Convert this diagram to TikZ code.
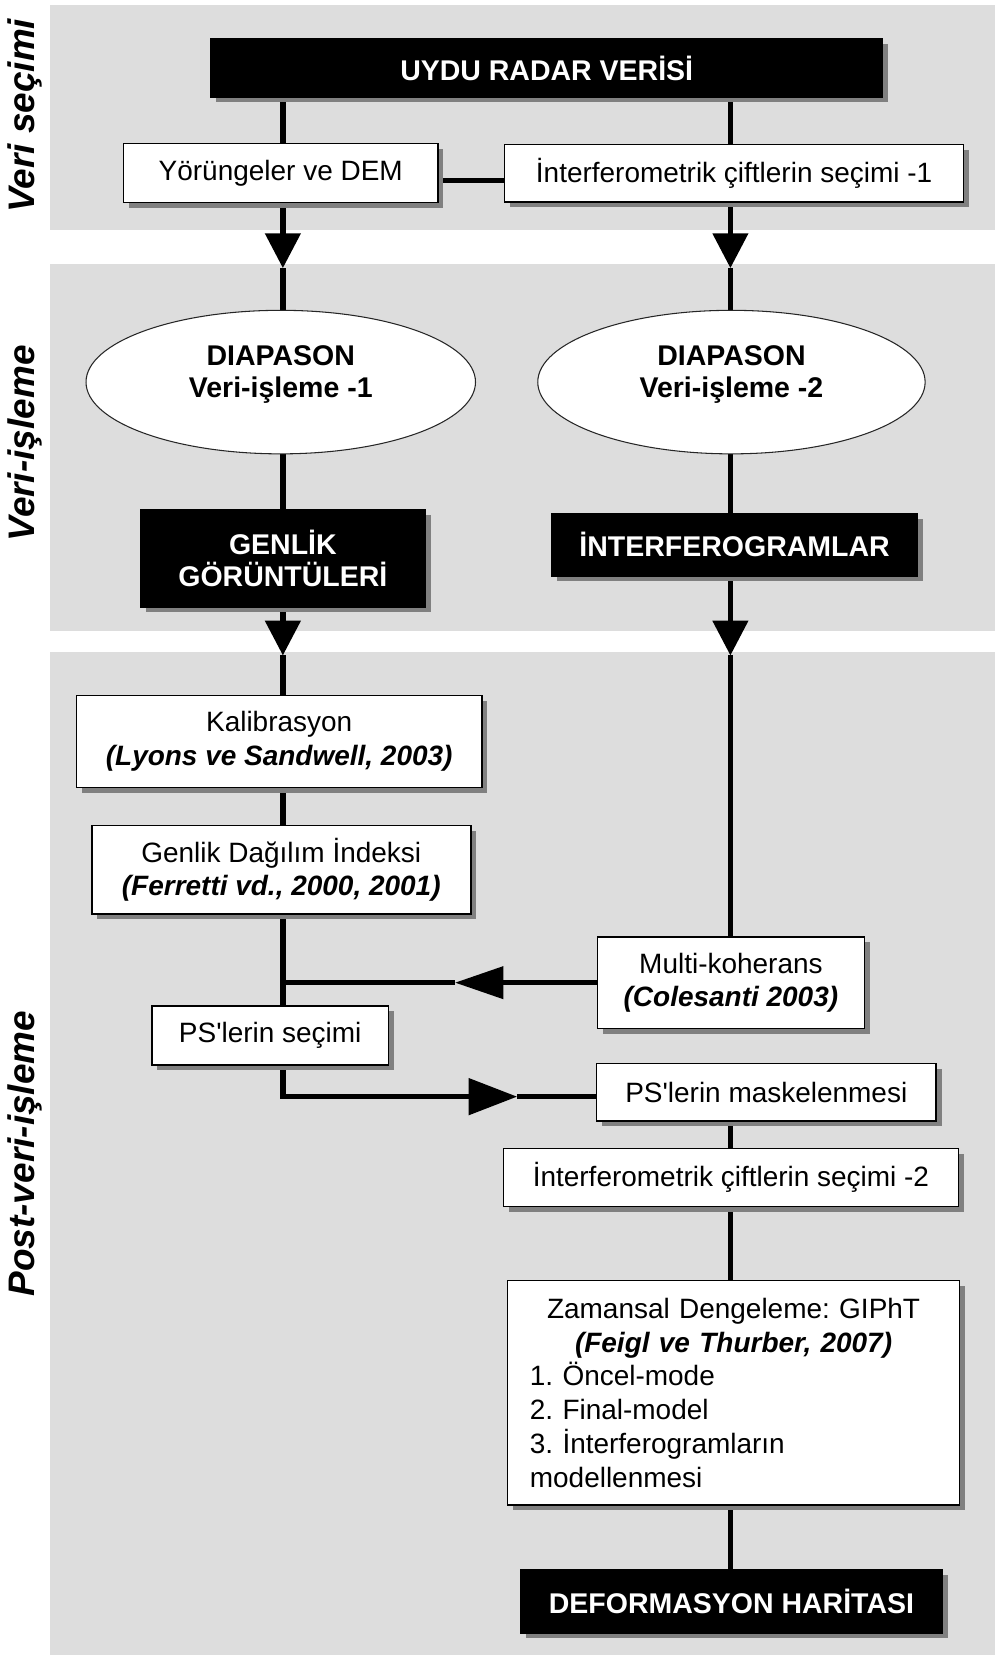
\documentclass[tikz,border=0pt]{standalone}
\usepackage{fontspec}
\setmainfont{Liberation Sans}
\usetikzlibrary{arrows.meta,shapes.geometric,shadows,calc}
\definecolor{bandgray}{RGB}{221,221,221}
\definecolor{shadowgray}{RGB}{128,128,128}
\pgfdeclarelayer{bands}
\pgfdeclarelayer{lines}
\pgfsetlayers{bands,lines,main}
\frenchspacing
\newcommand{\regfont}{\fontsize{26.5}{32}\selectfont}
\newcommand{\blkfont}{\fontsize{27}{30}\selectfont\bfseries}
\newcommand{\bitx}[1]{\textbf{\textit{#1}}}
\tikzset{
  shad/.style={drop shadow={shadow xshift=5pt, shadow yshift=-5pt, fill=shadowgray, opacity=1}},
  whitebox/.style={rectangle, draw=black, line width=1.5pt, fill=white, inner sep=0pt, font=\regfont, align=center, shad},
  blackbox/.style={rectangle, draw=black, line width=1.5pt, fill=black, text=white, inner sep=0pt, font=\blkfont, align=center, shad},
  oval/.style={ellipse, draw=black!85, line width=1pt, fill=white, inner sep=0pt},
  ovaltext/.style={font=\blkfont, align=center},
  conn/.style={line width=5pt},
  thinconn/.style={line width=4pt},
  headdown/.style={-{Triangle[width=33pt,length=33pt]}},
  headleft/.style={-{Triangle[width=30pt,length=46pt]}},
  headright/.style={-{Triangle[width=34pt,length=46pt]}},
  sidelabel/.style={font=\fontsize{35}{35}\selectfont\bfseries\itshape, rotate=90, inner sep=0pt}
}
\begin{document}
\begin{tikzpicture}[x=1pt, y=-1pt]
\useasboundingbox (0,0) rectangle (943,1568);
\begin{pgfonlayer}{bands}
  \fill[white] (0,0) rectangle (943,1568);
  \fill[bandgray] (47,5) rectangle (943,218);
  \fill[bandgray] (47,250) rectangle (943,598);
  \fill[bandgray] (47,618) rectangle (943,1568);
\end{pgfonlayer}

% side labels
\node[sidelabel] (lab1) at (24,109.5) {Veri seçimi};
\node[sidelabel] (lab2) at (24,420) {Veri-işleme};
\node[sidelabel] (lab3) at (24,1093) {Post-veri-işleme};

% columns
\coordinate (colL) at (268,0);
\coordinate (colR) at (692,0);

% nodes
\node[blackbox, minimum width=636pt, minimum height=55pt] (uydu) at (518,64.5) {UYDU RADAR VERİSİ};
\node[whitebox, minimum width=298pt, minimum height=56pt] (yor) at (266,164) {Yörüngeler ve DEM};
\node[whitebox, minimum width=435pt, minimum height=54.5pt] (int1) at (695.5,164) {İnterferometrik çiftlerin seçimi -1};

\node[oval, minimum width=369pt, minimum height=136pt] (e1) at (266,362) {};
\node[ovaltext] (e1t) at ([yshift=7pt]e1.center) {DIAPASON\\Veri-işleme -1};
\node[oval, minimum width=367pt, minimum height=136pt] (e2) at (693,362) {};
\node[ovaltext] (e2t) at ([yshift=7pt]e2.center) {DIAPASON\\Veri-işleme -2};

\node[blackbox, minimum width=270pt, minimum height=92pt] (gen) at (268,529) {GENLİK\\GÖRÜNTÜLERİ};
\node[blackbox, minimum width=346pt, minimum height=59pt] (ifg) at (696,516) {İNTERFEROGRAMLAR};

\node[whitebox, minimum width=384pt, minimum height=87pt] (kal) at (264.5,702.5) {Kalibrasyon\\\bitx{(Lyons ve Sandwell, 2003)}};
\node[whitebox, minimum width=359pt, minimum height=84pt] (gdi) at (266.5,824) {Genlik Dağılım İndeksi\\\bitx{(Ferretti vd., 2000, 2001)}};
\node[whitebox, minimum width=253pt, minimum height=87pt] (mk) at (692.5,931) {Multi-koherans\\\bitx{(Colesanti 2003)}};
\node[whitebox, minimum width=224pt, minimum height=56pt] (pss) at (256,981) {PS\textquotesingle lerin seçimi};
\node[whitebox, minimum width=322pt, minimum height=54.5pt] (mask) at (726,1035) {PS\textquotesingle lerin maskelenmesi};
\node[whitebox, minimum width=431pt, minimum height=55pt] (int2) at (692.5,1115.5) {İnterferometrik çiftlerin seçimi -2};
\node[whitebox, minimum width=428pt, minimum height=213pt, text width=386pt, align=left] (zam) at (695,1319.5)
  {{\centering Zamansal Dengeleme: GIPhT\\\bitx{(Feigl ve Thurber, 2007)}\par}
   1. Öncel-mode\\2. Final-model\\3. İnterferogramların\\modellenmesi};
\node[blackbox, minimum width=400pt, minimum height=60pt] (def) at (693,1517) {DEFORMASYON HARİTASI};

% arrow tip coordinates
\coordinate (t1) at (268,254);
\coordinate (t2) at (692,254);
\coordinate (t3) at (268,621);
\coordinate (t4) at (692,621);
\coordinate (t5) at (431,931);
\coordinate (j1) at (268,931);
\coordinate (t6) at (490,1039);

\begin{pgfonlayer}{lines}
  \draw[conn] (uydu.south -| colL) -- (yor.north -| colL);
  \draw[conn] (uydu.south -| colR) -- (int1.north -| colR);
  \draw[thinconn] ([yshift=-7pt]yor.east) -- ([yshift=-7pt]int1.west);
  \draw[conn, headdown] (yor.south -| colL) -- (t1);
  \draw[conn] (t1) -- (e1.north -| colL);
  \draw[conn, headdown] (int1.south -| colR) -- (t2);
  \draw[conn] (t2) -- (e2.north -| colR);
  \draw[conn] (e1.south -| colL) -- (gen.north -| colL);
  \draw[conn] (e2.south -| colR) -- (ifg.north -| colR);
  \draw[conn, headdown] (gen.south -| colL) -- (t3);
  \draw[conn] (t3) -- (kal.north -| colL);
  \draw[conn, headdown] (ifg.south -| colR) -- (t4);
  \draw[conn] (t4) -- (mk.north -| colR);
  \draw[conn] (kal.south -| colL) -- (gdi.north -| colL);
  \draw[conn] (gdi.south -| colL) -- (pss.north -| colL);
  \draw[conn, headleft] (mk.west) -- (t5);
  \draw[conn] (t5) -- (j1);
  \draw[conn, headright] (pss.south -| colL) |- (t6);
  \draw[conn] (t6) -- (t6 -| mask.west);
  \draw[conn] (mask.south -| colR) -- (int2.north -| colR);
  \draw[conn] (int2.south -| colR) -- (zam.north -| colR);
  \draw[conn] (zam.south -| colR) -- (def.north -| colR);
\end{pgfonlayer}
\end{tikzpicture}
\end{document}
